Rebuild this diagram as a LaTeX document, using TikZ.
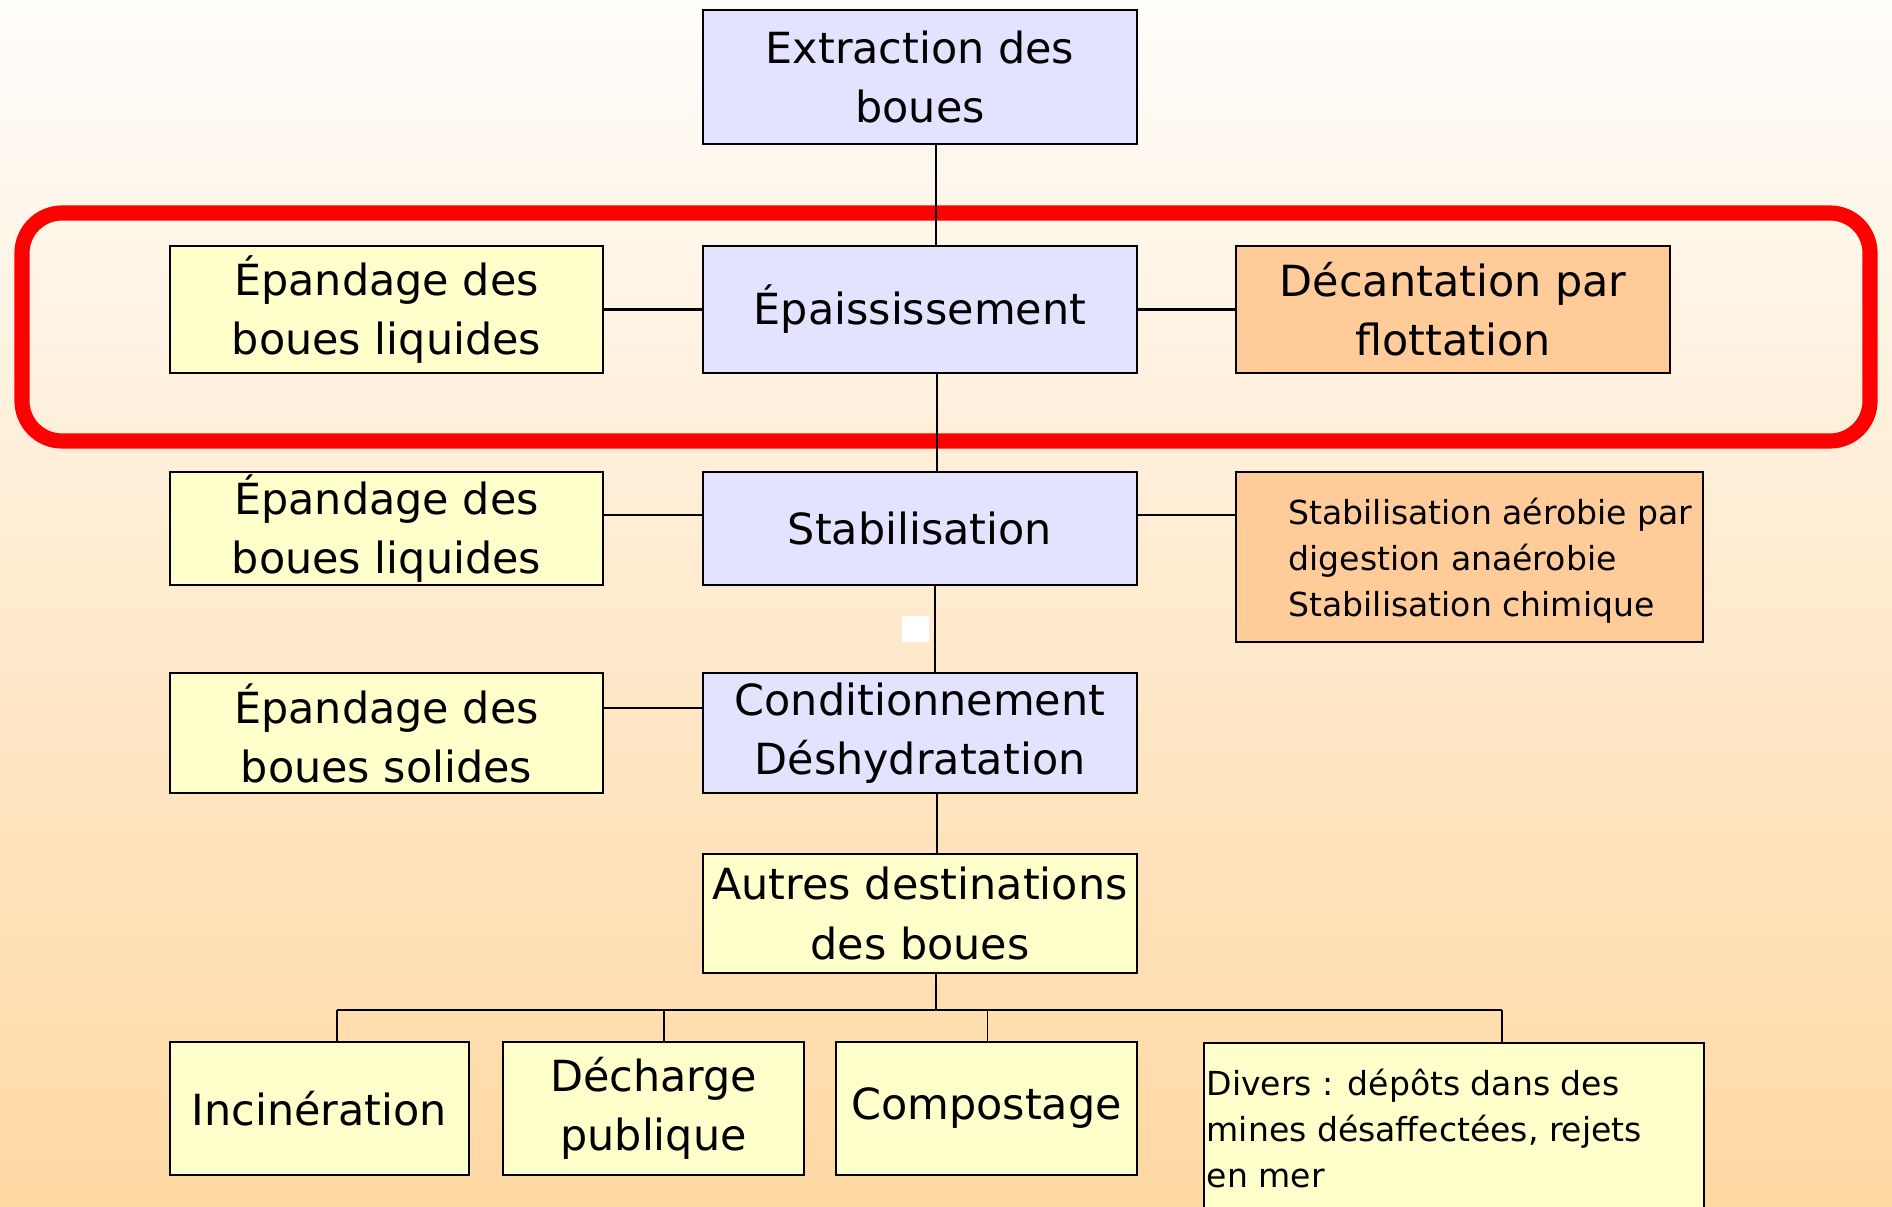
\documentclass[tikz,border=0pt]{standalone}
\usepackage{fontspec}
\setmainfont{DejaVu Sans}
\usetikzlibrary{positioning, calc}
\definecolor{boueblue}{HTML}{E3E3FF}
\definecolor{boueyellow}{HTML}{FFFFCC}
\definecolor{boueorange}{HTML}{FFCC99}
\definecolor{bgtop}{HTML}{FFFDFB}
\definecolor{bgbottom}{HTML}{FFD8A2}
\definecolor{framered}{HTML}{FF0000}

\begin{document}
\begin{tikzpicture}[
    x=0.01cm, y=-0.01cm,
    every node/.style={font=\fontsize{12.2}{16.8}\selectfont, text=black, align=center, inner sep=0pt},
    box/.style={draw=black, line width=0.6pt},
    bluebox/.style={box, fill=boueblue, minimum width=4.34cm},
    yellowbox/.style={box, fill=boueyellow},
    orangebox/.style={box, fill=boueorange},
    smalltext/.style={font=\fontsize{9.4}{13.1}\selectfont, align=left},
    link/.style={draw=black, line width=0.4pt},
    hlink/.style={draw=black, line width=0.7pt},
]

% Background
\useasboundingbox (0,0) rectangle (1892,1206);
\clip (0,0) rectangle (1892,1206);
\shade[top color=bgtop, bottom color=bgbottom] (0,0) rectangle (1892,1206);

% Red frame round the thickening row
\draw[framered, line width=4.3pt, rounded corners=0.4cm] (22,213) rectangle (1870,441);

% === Main chain ===
\node[bluebox, minimum height=1.34cm] (extr) at (920,77) {Extraction des\\boues};
\node[bluebox, minimum height=1.27cm] (epais) at (920,309.5) {Épaississement};
\node[bluebox, minimum height=1.13cm] (stab) at (920,528.5) {Stabilisation};
\node[bluebox, minimum height=1.20cm] (cond) at (920,733) {Conditionnement\\Déshydratation};
\node[yellowbox, minimum width=4.34cm, minimum height=1.19cm] (autres) at (920,913.5) {Autres destinations\\des boues};

% === Left column ===
\node[yellowbox, minimum width=4.33cm, minimum height=1.27cm] (epand1) at (386.5,309.5) {Épandage des\\boues liquides};
\node[yellowbox, minimum width=4.33cm, minimum height=1.13cm] (epand2) at (386.5,528.5) {Épandage des\\boues liquides};
\node[yellowbox, minimum width=4.33cm, minimum height=1.20cm] (epand3) at (386.5,733) {Épandage des\\boues solides};

% === Right column ===
\node[orangebox, minimum width=4.34cm, minimum height=1.27cm] (decant) at (1453,309.5) {Décantation par\\flottation};
\node[orangebox, minimum width=4.67cm, minimum height=1.70cm] (stabr) at (1469.5,557) {};
\node[smalltext, anchor=west] (stabrtext) at ([xshift=0.53cm, yshift=-0.04cm]stabr.west)
      {Stabilisation aérobie par\\digestion anaérobie\\Stabilisation chimique};

% === Other destinations ===
\node[yellowbox, minimum width=2.99cm, minimum height=1.33cm] (incin) at (319.5,1108.5) {Incinération};
\node[yellowbox, minimum width=3.01cm, minimum height=1.33cm] (decharge) at (653.5,1108.5) {Décharge\\publique};
\node[yellowbox, minimum width=3.01cm, minimum height=1.33cm] (compost) at (986.5,1108.5) {Compostage};
\node[yellowbox, anchor=north west, minimum width=5cm, minimum height=1.9cm] (divers) at (1203,1042) {};
\node[smalltext, anchor=north west] (diverstext) at ([xshift=0.03cm, yshift=-0.26cm]divers.north west)
      {Divers : dépôts dans des\\mines désaffectées, rejets\\en mer};

% === Connectors ===
\draw[link] ([xshift=0.16cm]extr.south) -- ([xshift=0.16cm]epais.north);
\draw[link] ([xshift=0.17cm]epais.south) -- ([xshift=0.17cm]stab.north);
\draw[link] ([xshift=0.15cm]stab.south) -- ([xshift=0.15cm]cond.north);
\draw[link] ([xshift=0.17cm]cond.south) -- ([xshift=0.17cm]autres.north);

\draw[hlink] (epand1.east) -- (epais.west);
\draw[hlink] (epais.east) -- (decant.west);
\draw[hlink] ([yshift=0.135cm]epand2.east) -- ([yshift=0.135cm]stab.west);
\draw[hlink] ([yshift=0.135cm]stab.east) -- ([yshift=0.135cm]stab.east -| stabr.west);
\draw[hlink] ([yshift=0.25cm]epand3.east) -- ([yshift=0.25cm]cond.west);

% bus to the other destinations
\coordinate (busw) at (337,1010);
\coordinate (buse) at (1502,1010);
\draw[hlink] (busw) -- (buse);
\draw[link] ([xshift=0.16cm]autres.south) -- ([xshift=0.16cm]autres.south |- busw);
\draw[link] (busw) -- (busw |- incin.north);
\draw[link] ([xshift=0.105cm]decharge.north |- busw) -- ([xshift=0.105cm]decharge.north);
\draw[link] ([xshift=0.01cm]compost.north |- busw) -- ([xshift=0.01cm]compost.north);
\draw[link] (buse) -- (buse |- divers.north);

% small white mark
\fill[white] (902,616) rectangle (929,642);

\end{tikzpicture}
\end{document}
